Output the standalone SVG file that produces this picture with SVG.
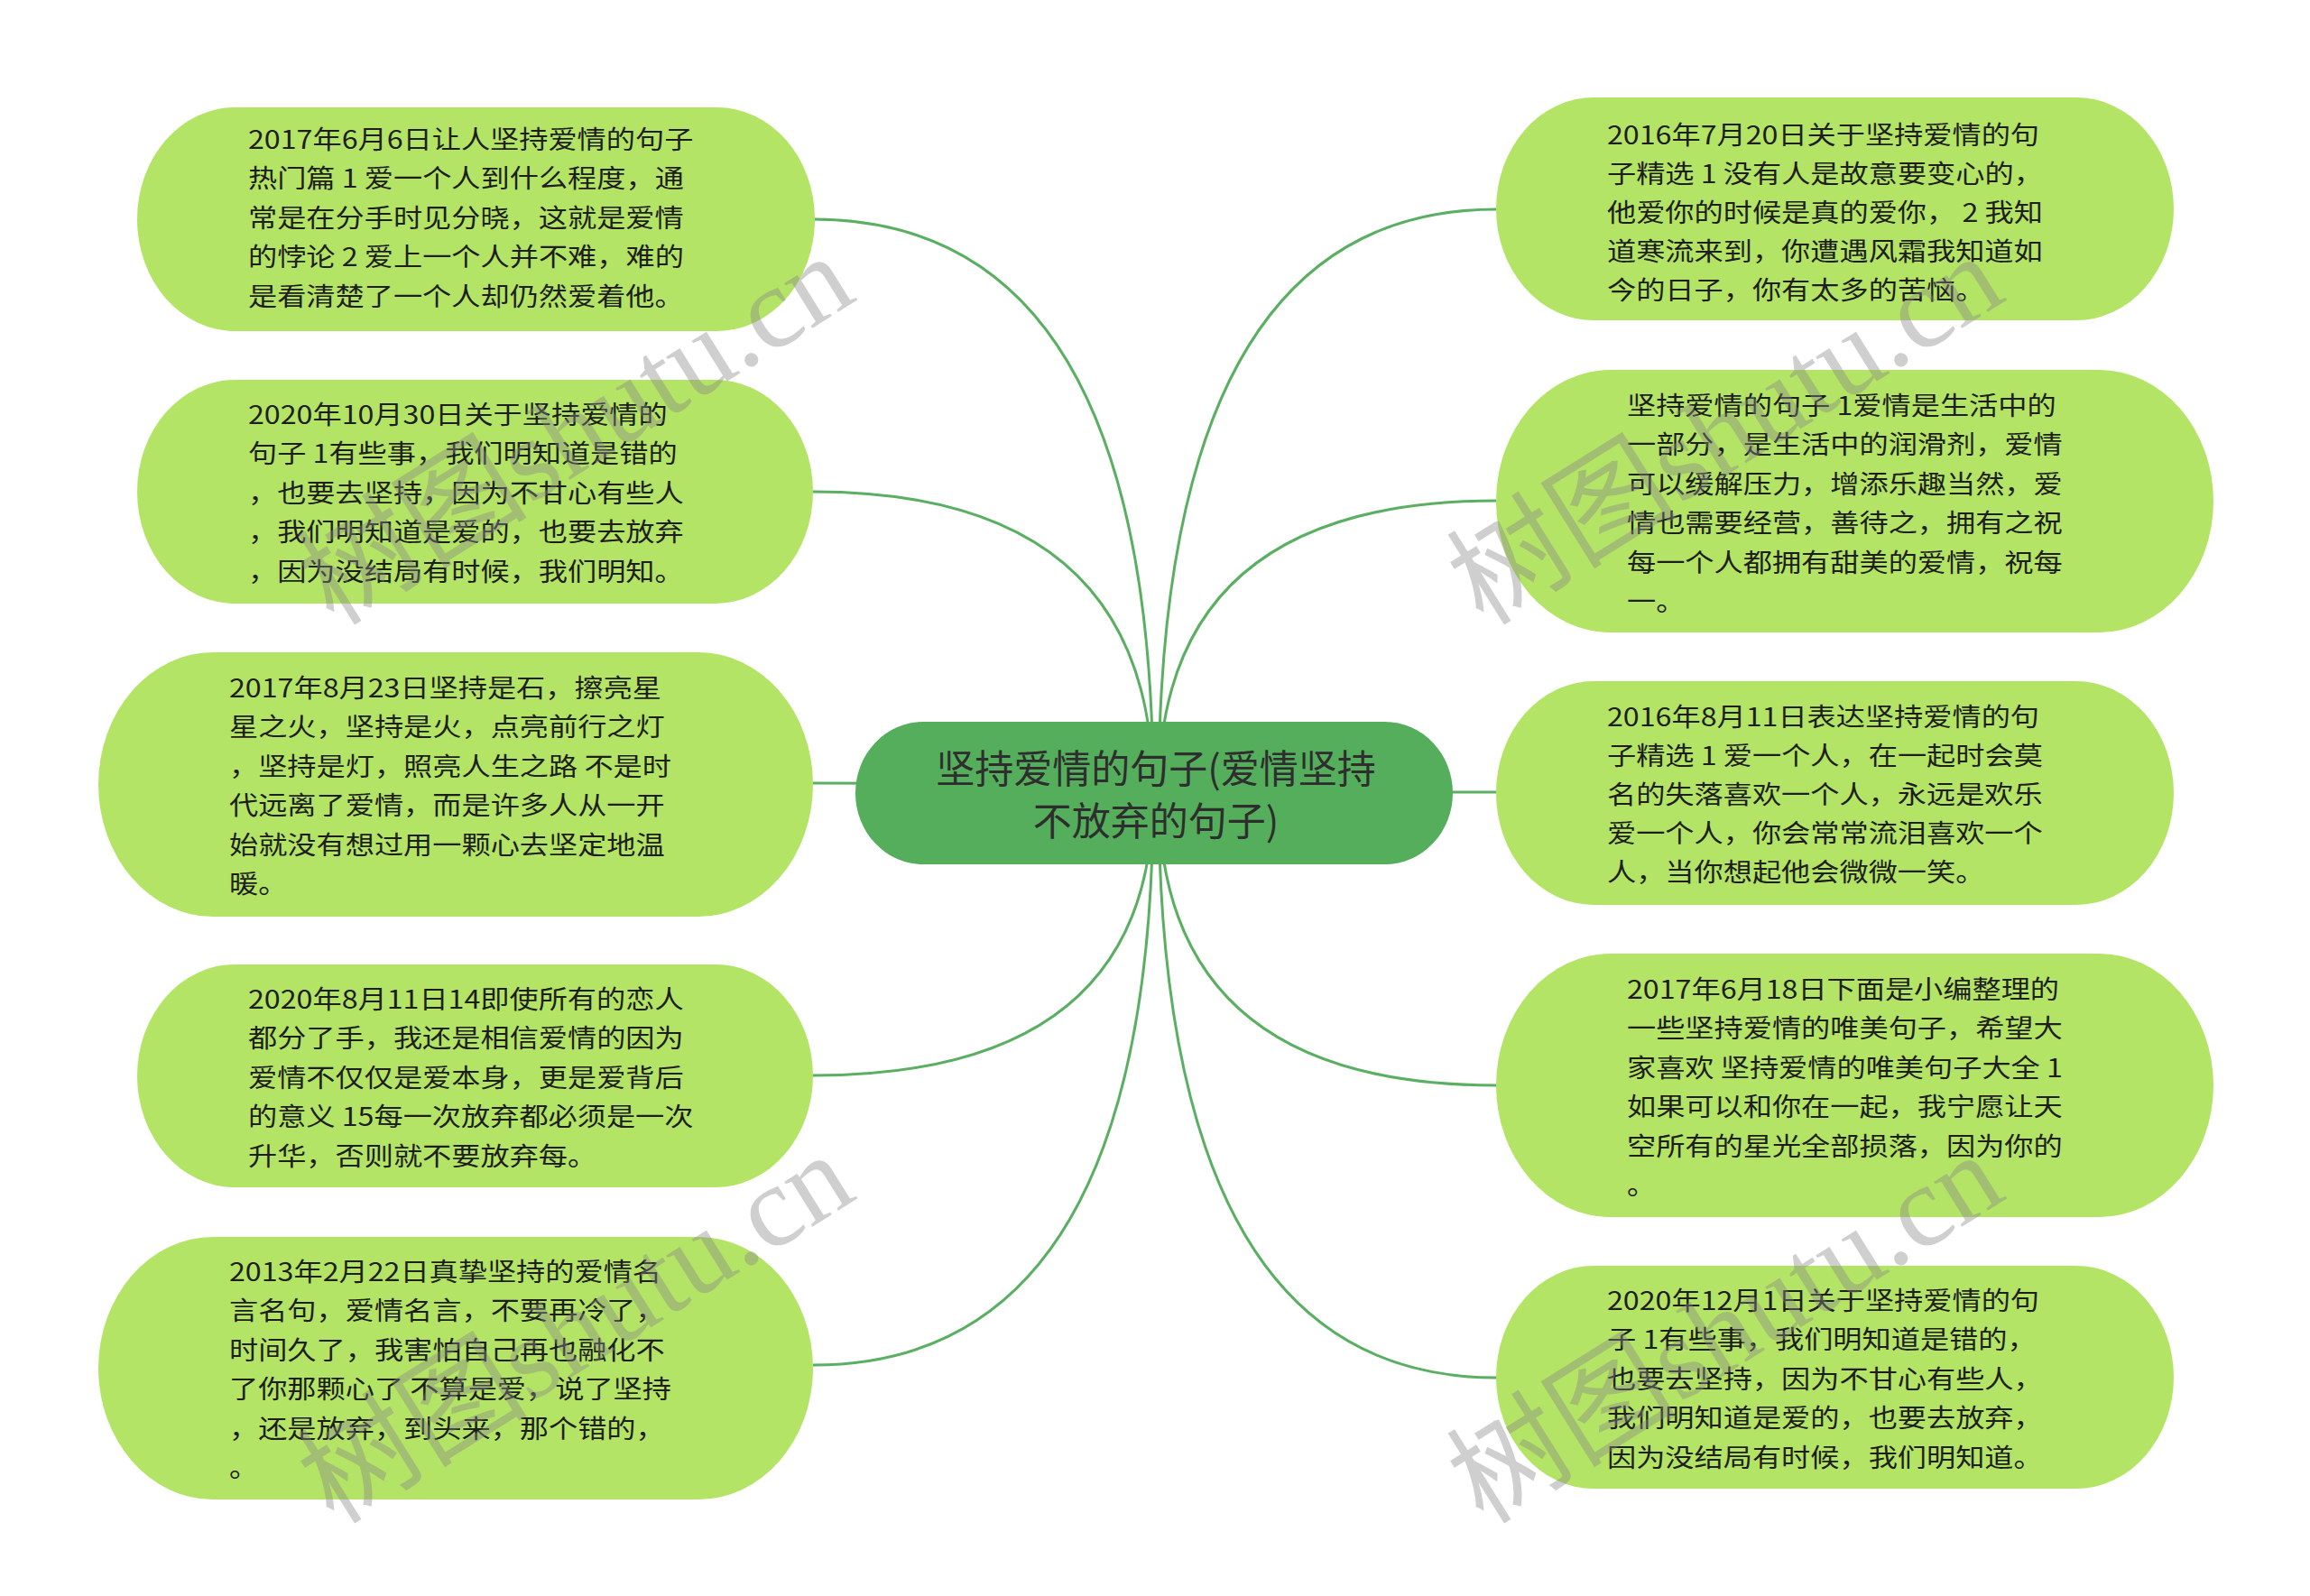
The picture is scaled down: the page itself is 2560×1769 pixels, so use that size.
<svg xmlns="http://www.w3.org/2000/svg" width="2560" height="1769" viewBox="0 0 2560 1769">
<style>
.leaf{fill:#b4e465;}
.root{fill:#54ae5c;}
.t{font-family:"Noto Sans CJK SC","Microsoft YaHei",sans-serif;font-size:28px;fill:#1e1e1e;}
.ct{font-family:"Noto Sans CJK SC","Microsoft YaHei",sans-serif;font-size:43px;fill:#2e2e2e;text-anchor:middle;}
.edge{fill:none;stroke:#5aaf62;stroke-width:3;}
.wm{font-family:"Liberation Serif","Noto Sans CJK SC",serif;font-size:128px;fill:#888;opacity:0.4;}
</style>
<rect width="2560" height="1769" fill="#ffffff"/>
<g id="connectors">
<path class="edge" d="M1278,879 Q1278,243 901,243"/>
<path class="edge" d="M1278,879 Q1278,545 901,545"/>
<path class="edge" d="M1278,879 Q1278,868 901,868"/>
<path class="edge" d="M1278,879 Q1278,1192 901,1192"/>
<path class="edge" d="M1278,879 Q1278,1513 901,1513"/>
<path class="edge" d="M1284,879 Q1284,232 1658,232"/>
<path class="edge" d="M1284,879 Q1284,555 1658,555"/>
<path class="edge" d="M1284,879 Q1284,878 1658,878"/>
<path class="edge" d="M1284,879 Q1284,1203 1658,1203"/>
<path class="edge" d="M1284,879 Q1284,1527 1658,1527"/>
</g>
<g id="root">
<rect class="root" x="948" y="800" width="662" height="158" rx="75" ry="79"/>
<text class="ct"><tspan x="1281" y="868">坚持爱情的句子(爱情坚持</tspan><tspan x="1281" y="926">不放弃的句子)</tspan></text>
</g>
<g id="node-l1">
<rect class="leaf" x="152" y="119" width="751" height="248" rx="108" ry="124"/>
<text class="t" transform="translate(275,0) scale(1.15,1)"><tspan x="0" y="165">2017年6月6日让人坚持爱情的句子</tspan><tspan x="0" y="208.5">热门篇 1 爱一个人到什么程度，通</tspan><tspan x="0" y="252">常是在分手时见分晓，这就是爱情</tspan><tspan x="0" y="295.5">的悖论 2 爱上一个人并不难，难的</tspan><tspan x="0" y="339">是看清楚了一个人却仍然爱着他。</tspan></text>
</g>
<g id="node-l2">
<rect class="leaf" x="152" y="421" width="749" height="248" rx="108" ry="124"/>
<text class="t" transform="translate(275,0) scale(1.15,1)"><tspan x="0" y="470">2020年10月30日关于坚持爱情的</tspan><tspan x="0" y="513.5">句子 1有些事，我们明知道是错的</tspan><tspan x="0" y="557">，也要去坚持，因为不甘心有些人</tspan><tspan x="0" y="600.5">，我们明知道是爱的，也要去放弃</tspan><tspan x="0" y="644">，因为没结局有时候，我们明知。</tspan></text>
</g>
<g id="node-l3">
<rect class="leaf" x="109" y="723" width="792" height="293" rx="127" ry="146.5"/>
<text class="t" transform="translate(254,0) scale(1.15,1)"><tspan x="0" y="773">2017年8月23日坚持是石，擦亮星</tspan><tspan x="0" y="816.5">星之火，坚持是火，点亮前行之灯</tspan><tspan x="0" y="860">，坚持是灯，照亮人生之路 不是时</tspan><tspan x="0" y="903.5">代远离了爱情，而是许多人从一开</tspan><tspan x="0" y="947">始就没有想过用一颗心去坚定地温</tspan><tspan x="0" y="990.5">暖。</tspan></text>
</g>
<g id="node-l4">
<rect class="leaf" x="152" y="1069" width="749" height="247" rx="108" ry="123.5"/>
<text class="t" transform="translate(275,0) scale(1.15,1)"><tspan x="0" y="1118">2020年8月11日14即使所有的恋人</tspan><tspan x="0" y="1161.5">都分了手，我还是相信爱情的因为</tspan><tspan x="0" y="1205">爱情不仅仅是爱本身，更是爱背后</tspan><tspan x="0" y="1248.5">的意义 15每一次放弃都必须是一次</tspan><tspan x="0" y="1292">升华，否则就不要放弃每。</tspan></text>
</g>
<g id="node-l5">
<rect class="leaf" x="109" y="1371" width="792" height="291" rx="127" ry="145.5"/>
<text class="t" transform="translate(254,0) scale(1.15,1)"><tspan x="0" y="1420">2013年2月22日真挚坚持的爱情名</tspan><tspan x="0" y="1463.5">言名句，爱情名言，不要再冷了，</tspan><tspan x="0" y="1507">时间久了，我害怕自己再也融化不</tspan><tspan x="0" y="1550.5">了你那颗心了 不算是爱，说了坚持</tspan><tspan x="0" y="1594">，还是放弃，到头来，那个错的，</tspan><tspan x="0" y="1637.5">。</tspan></text>
</g>
<g id="node-r1">
<rect class="leaf" x="1658" y="108" width="751" height="247" rx="108" ry="123.5"/>
<text class="t" transform="translate(1781,0) scale(1.15,1)"><tspan x="0" y="160">2016年7月20日关于坚持爱情的句</tspan><tspan x="0" y="203">子精选 1 没有人是故意要变心的，</tspan><tspan x="0" y="246">他爱你的时候是真的爱你， 2 我知</tspan><tspan x="0" y="289">道寒流来到，你遭遇风霜我知道如</tspan><tspan x="0" y="332">今的日子，你有太多的苦恼。</tspan></text>
</g>
<g id="node-r2">
<rect class="leaf" x="1658" y="410" width="795" height="291" rx="127" ry="145.5"/>
<text class="t" transform="translate(1803,0) scale(1.15,1)"><tspan x="0" y="460">坚持爱情的句子 1爱情是生活中的</tspan><tspan x="0" y="503.5">一部分，是生活中的润滑剂，爱情</tspan><tspan x="0" y="547">可以缓解压力，增添乐趣当然，爱</tspan><tspan x="0" y="590.5">情也需要经营，善待之，拥有之祝</tspan><tspan x="0" y="634">每一个人都拥有甜美的爱情，祝每</tspan><tspan x="0" y="677.5">一。</tspan></text>
</g>
<g id="node-r3">
<rect class="leaf" x="1658" y="755" width="751" height="248" rx="108" ry="124"/>
<text class="t" transform="translate(1781,0) scale(1.15,1)"><tspan x="0" y="805">2016年8月11日表达坚持爱情的句</tspan><tspan x="0" y="848">子精选 1 爱一个人，在一起时会莫</tspan><tspan x="0" y="891">名的失落喜欢一个人，永远是欢乐</tspan><tspan x="0" y="934">爱一个人，你会常常流泪喜欢一个</tspan><tspan x="0" y="977">人，当你想起他会微微一笑。</tspan></text>
</g>
<g id="node-r4">
<rect class="leaf" x="1658" y="1057" width="795" height="292" rx="127" ry="146"/>
<text class="t" transform="translate(1803,0) scale(1.15,1)"><tspan x="0" y="1107">2017年6月18日下面是小编整理的</tspan><tspan x="0" y="1150.5">一些坚持爱情的唯美句子，希望大</tspan><tspan x="0" y="1194">家喜欢 坚持爱情的唯美句子大全 1</tspan><tspan x="0" y="1237.5">如果可以和你在一起，我宁愿让天</tspan><tspan x="0" y="1281">空所有的星光全部损落，因为你的</tspan><tspan x="0" y="1324.5">。</tspan></text>
</g>
<g id="node-r5">
<rect class="leaf" x="1658" y="1403" width="751" height="247" rx="108" ry="123.5"/>
<text class="t" transform="translate(1781,0) scale(1.15,1)"><tspan x="0" y="1452">2020年12月1日关于坚持爱情的句</tspan><tspan x="0" y="1495.5">子 1有些事，我们明知道是错的，</tspan><tspan x="0" y="1539">也要去坚持，因为不甘心有些人，</tspan><tspan x="0" y="1582.5">我们明知道是爱的，也要去放弃，</tspan><tspan x="0" y="1626">因为没结局有时候，我们明知道。</tspan></text>
</g>
<g id="watermarks">
<text class="wm" transform="translate(370,695) rotate(-32)">树图shutu.cn</text>
<text class="wm" transform="translate(1644,695) rotate(-32)">树图shutu.cn</text>
<text class="wm" transform="translate(370,1691) rotate(-32)">树图shutu.cn</text>
<text class="wm" transform="translate(1644,1691) rotate(-32)">树图shutu.cn</text>
</g>
</svg>
